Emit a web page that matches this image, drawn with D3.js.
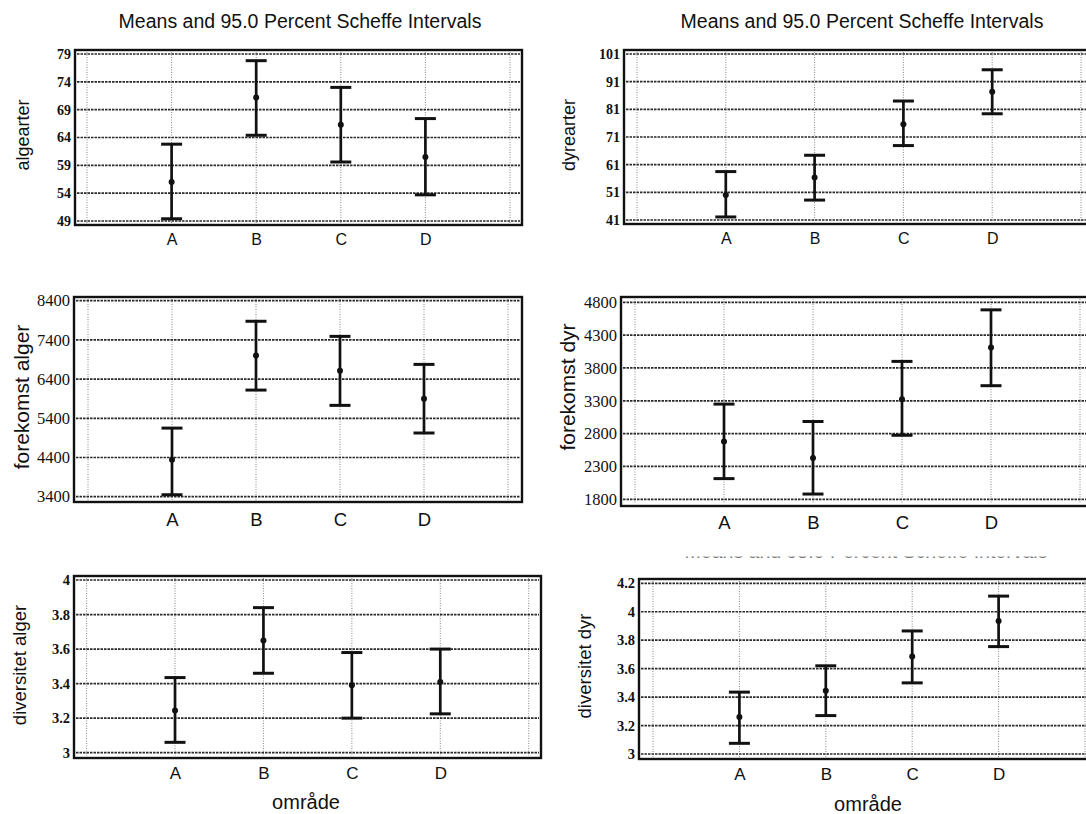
<!DOCTYPE html>
<html>
<head>
<meta charset="utf-8">
<script src="https://cdn.jsdelivr.net/npm/d3@7"></script>
<style>
  html, body { margin: 0; padding: 0; background: #ffffff; }
  svg { display: block; }
</style>
</head>
<body>
<svg id="chart" width="1086" height="814"></svg>
<script>
// ---------------- DATA ----------------
const categories = ["A", "B", "C", "D"];
const chartTitle = "Means and 95.0 Percent Scheffe Intervals";
const xAxisLabel = "område";

const algearterMean = [56.0, 71.2, 66.3, 60.5];
const algearterLow  = [49.4, 64.4, 59.6, 53.7];
const algearterHigh = [62.8, 77.8, 73.0, 67.4];
const algearterTicks = [49, 54, 59, 64, 69, 74, 79];

const dyrearterMean = [50.0, 56.4, 75.6, 87.4];
const dyrearterLow  = [42.1, 48.2, 67.9, 79.4];
const dyrearterHigh = [58.5, 64.4, 84.0, 95.3];
const dyrearterTicks = [41, 51, 61, 71, 81, 91, 101];

const forekomstAlgerMean = [4340, 7000, 6610, 5900];
const forekomstAlgerLow  = [3450, 6120, 5730, 5025];
const forekomstAlgerHigh = [5150, 7875, 7490, 6775];
const forekomstAlgerTicks = [3400, 4400, 5400, 6400, 7400, 8400];

const forekomstDyrMean = [2680, 2430, 3325, 4110];
const forekomstDyrLow  = [2115, 1880, 2775, 3530];
const forekomstDyrHigh = [3250, 2985, 3900, 4685];
const forekomstDyrTicks = [1800, 2300, 2800, 3300, 3800, 4300, 4800];

const diversitetAlgerMean = [3.245, 3.65, 3.39, 3.41];
const diversitetAlgerLow  = [3.06, 3.46, 3.20, 3.225];
const diversitetAlgerHigh = [3.435, 3.84, 3.58, 3.60];
const diversitetAlgerTicks = [3, 3.2, 3.4, 3.6, 3.8, 4];

const diversitetDyrMean = [3.26, 3.445, 3.685, 3.935];
const diversitetDyrLow  = [3.075, 3.27, 3.50, 3.755];
const diversitetDyrHigh = [3.435, 3.62, 3.865, 4.11];
const diversitetDyrTicks = [3, 3.2, 3.4, 3.6, 3.8, 4, 4.2];

// ---------------- LAYOUT ----------------
const svg = d3.select("#chart");
const SANS = "'Liberation Sans', Arial, sans-serif";
const SERIF = "'Liberation Serif', 'Times New Roman', serif";

const panels = [
  { name: "algearter", mean: algearterMean, low: algearterLow, high: algearterHigh, ticks: algearterTicks,
    frame: {l: 75, r: 522, t: 50, b: 225}, yPix: [221, 54], xPix: [87, 510],
    title: {x: 300, y: 28}, ylab: {x: 23, y: 135, size: 18}, tickSize: 14, tickWeight: "bold",
    xTickY: 245, xTickSize: 16 },
  { name: "dyrearter", mean: dyrearterMean, low: dyrearterLow, high: dyrearterHigh, ticks: dyrearterTicks,
    frame: {l: 624, r: 1095, t: 50, b: 224}, yPix: [220, 54], xPix: [637, 1081],
    title: {x: 862, y: 28}, ylab: {x: 569, y: 135, size: 18}, tickSize: 14, tickWeight: "bold",
    xTickY: 244, xTickSize: 16 },
  { name: "forekomst alger", mean: forekomstAlgerMean, low: forekomstAlgerLow, high: forekomstAlgerHigh, ticks: forekomstAlgerTicks,
    frame: {l: 74, r: 522, t: 297, b: 502}, yPix: [496.7, 300.7], xPix: [88, 508],
    title: null, ylab: {x: 22, y: 397, size: 21}, tickSize: 16.5, tickWeight: "normal",
    xTickY: 526, xTickSize: 18.5 },
  { name: "forekomst dyr", mean: forekomstDyrMean, low: forekomstDyrLow, high: forekomstDyrHigh, ticks: forekomstDyrTicks,
    frame: {l: 621, r: 1095, t: 297, b: 506}, yPix: [499.3, 302.3], xPix: [635, 1080],
    title: null, ylab: {x: 568, y: 387, size: 21}, tickSize: 16.5, tickWeight: "normal",
    xTickY: 529, xTickSize: 18.5 },
  { name: "diversitet alger", mean: diversitetAlgerMean, low: diversitetAlgerLow, high: diversitetAlgerHigh, ticks: diversitetAlgerTicks,
    frame: {l: 74, r: 541, t: 576, b: 758}, yPix: [752.7, 580], xPix: [86.6, 528.7],
    title: null, ylab: {x: 20, y: 665, size: 18.5}, tickSize: 14.5, tickWeight: "bold",
    xTickY: 779, xTickSize: 17, xlab: {x: 306, y: 809} },
  { name: "diversitet dyr", mean: diversitetDyrMean, low: diversitetDyrLow, high: diversitetDyrHigh, ticks: diversitetDyrTicks,
    frame: {l: 639, r: 1095, t: 579, b: 759}, yPix: [754, 583.3], xPix: [653, 1085],
    title: null, ylab: {x: 585, y: 666, size: 18.5}, tickSize: 14.5, tickWeight: "bold",
    xTickY: 780, xTickSize: 17, xlab: {x: 868, y: 811},
    ghostTitle: {x: 866, y: 558} }
];

panels.forEach((p, pi) => {
  const g = svg.append("g");
  const positions = [0, 1, 2, 3, 4, 5];
  const x = d3.scaleLinear().domain([0, 5]).range(p.xPix);
  const y = d3.scaleLinear().domain([d3.min(p.ticks), d3.max(p.ticks)]).range(p.yPix);
  const f = p.frame;

  // vertical grid
  g.selectAll("line.vgrid").data(positions).enter().append("line")
    .attr("x1", d => x(d)).attr("x2", d => x(d))
    .attr("y1", f.t + 2).attr("y2", f.b - 2)
    .attr("stroke", "#888").attr("stroke-width", 1).attr("stroke-dasharray", "1,1.5");

  // horizontal grid
  g.selectAll("line.hgrid").data(p.ticks).enter().append("line")
    .attr("x1", f.l + 2).attr("x2", f.r - 2)
    .attr("y1", d => y(d)).attr("y2", d => y(d))
    .attr("stroke", "#2a2a2a").attr("stroke-width", 1.7).attr("stroke-dasharray", "2.5,1");

  // frame
  g.append("rect").attr("x", f.l).attr("y", f.t).attr("width", f.r - f.l).attr("height", f.b - f.t)
    .attr("fill", "none").attr("stroke", "#111").attr("stroke-width", 2.4);

  // y axis labels via d3 axis
  const yAxis = d3.axisLeft(y).tickValues(p.ticks).tickSize(0).tickPadding(0)
    .tickFormat(d => String(d));
  const ya = g.append("g").attr("transform", `translate(${f.l - 4},0)`).call(yAxis);
  ya.select(".domain").remove();
  ya.selectAll("text").attr("font-family", SERIF).attr("font-size", p.tickSize)
    .attr("font-weight", p.tickWeight).attr("fill", "#111");

  // x axis labels via d3 axis
  const xAxis = d3.axisBottom(x).tickValues([1, 2, 3, 4]).tickSize(0).tickPadding(0)
    .tickFormat(d => categories[d - 1]);
  const xa = g.append("g").attr("transform", `translate(0,${p.xTickY})`).call(xAxis);
  xa.select(".domain").remove();
  xa.selectAll("text").attr("font-family", SANS).attr("font-size", p.xTickSize)
    .attr("fill", "#111").attr("dy", 0).attr("y", 0);

  // error bars
  const rows = categories.map((c, i) => ({ i: i + 1, m: p.mean[i], lo: p.low[i], hi: p.high[i] }));
  const capW = 10.5;
  const eb = g.selectAll("g.eb").data(rows).enter().append("g");
  eb.append("line").attr("x1", d => x(d.i)).attr("x2", d => x(d.i))
    .attr("y1", d => y(d.lo)).attr("y2", d => y(d.hi))
    .attr("stroke", "#111").attr("stroke-width", 2.7);
  eb.append("line").attr("x1", d => x(d.i) - capW).attr("x2", d => x(d.i) + capW)
    .attr("y1", d => y(d.hi)).attr("y2", d => y(d.hi))
    .attr("stroke", "#111").attr("stroke-width", 3);
  eb.append("line").attr("x1", d => x(d.i) - capW).attr("x2", d => x(d.i) + capW)
    .attr("y1", d => y(d.lo)).attr("y2", d => y(d.lo))
    .attr("stroke", "#111").attr("stroke-width", 3);
  eb.append("circle").attr("cx", d => x(d.i)).attr("cy", d => y(d.m)).attr("r", 3).attr("fill", "#111");

  // y label
  g.append("text")
    .attr("transform", `translate(${p.ylab.x},${p.ylab.y}) rotate(-90)`)
    .attr("text-anchor", "middle").attr("dy", "0.35em")
    .attr("font-family", SANS).attr("font-size", p.ylab.size).attr("fill", "#111")
    .text(p.name);

  // title
  if (p.title) {
    g.append("text").attr("x", p.title.x).attr("y", p.title.y).attr("text-anchor", "middle")
      .attr("font-family", SANS).attr("font-size", 19.5).attr("fill", "#111").text(chartTitle);
  }
  if (p.xlab) {
    g.append("text").attr("x", p.xlab.x).attr("y", p.xlab.y).attr("text-anchor", "middle")
      .attr("font-family", SANS).attr("font-size", 20).attr("fill", "#111").text(xAxisLabel);
  }
  if (p.ghostTitle) {
    const clipId = "ghostclip";
    svg.append("clipPath").attr("id", clipId).append("rect")
      .attr("x", 600).attr("y", p.ghostTitle.y - 1.6).attr("width", 486).attr("height", 1.6);
    g.append("text").attr("x", p.ghostTitle.x).attr("y", p.ghostTitle.y).attr("text-anchor", "middle")
      .attr("clip-path", `url(#${clipId})`)
      .attr("font-family", SANS).attr("font-size", 19.5).attr("fill", "#777").text(chartTitle);
  }
});
</script>
</body>
</html>
